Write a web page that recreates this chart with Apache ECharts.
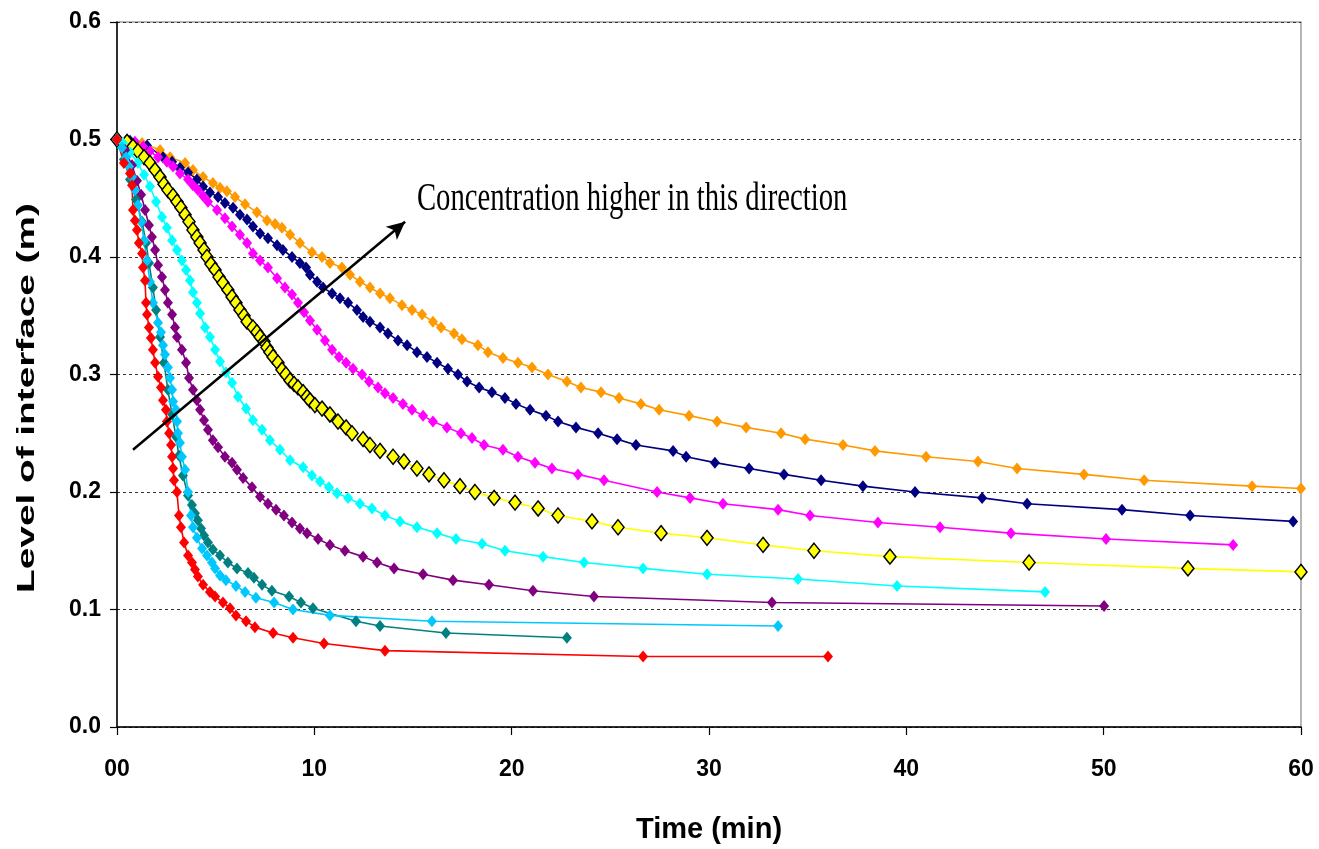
<!DOCTYPE html>
<html>
<head>
<meta charset="utf-8">
<script src="https://cdn.jsdelivr.net/npm/echarts@6/dist/echarts.min.js"></script>
<style>
html, body { margin: 0; padding: 0; background: #fff; }
#chart { width: 1319px; height: 849px; }
</style>
</head>
<body>
<div id="chart"></div>
<script>
// time (min), level (m)
const redData = [[0,0.5],[0.35,0.48],[0.66,0.471],[0.76,0.461],[0.81,0.44],[0.91,0.431],[1.01,0.423],[1.11,0.412],[1.27,0.403],[1.32,0.391],[1.42,0.38],[1.47,0.361],[1.52,0.351],[1.62,0.34],[1.72,0.331],[1.82,0.321],[1.93,0.31],[2.08,0.298],[2.23,0.289],[2.33,0.278],[2.48,0.27],[2.53,0.26],[2.64,0.25],[2.74,0.24],[2.79,0.23],[2.84,0.22],[2.89,0.21],[3.04,0.2],[3.14,0.18],[3.24,0.17],[3.4,0.157],[3.6,0.146],[3.8,0.14],[3.95,0.134],[4.1,0.128],[4.36,0.121],[4.71,0.115],[4.97,0.111],[5.37,0.106],[5.73,0.101],[6.03,0.095],[6.54,0.09],[6.99,0.085],[7.91,0.08],[8.92,0.076],[10.49,0.071],[13.58,0.065],[26.66,0.06],[36.03,0.06]];
const lightBlueData = [[0,0.5],[0.25,0.493],[0.46,0.485],[0.61,0.477],[0.76,0.468],[0.91,0.457],[1.06,0.444],[1.22,0.43],[1.37,0.414],[1.52,0.397],[1.67,0.379],[1.82,0.361],[2.08,0.344],[2.23,0.336],[2.33,0.325],[2.43,0.317],[2.58,0.306],[2.69,0.297],[2.79,0.287],[2.84,0.277],[2.99,0.27],[3.04,0.26],[3.09,0.25],[3.19,0.242],[3.29,0.23],[3.45,0.219],[3.6,0.2],[3.75,0.18],[3.85,0.17],[4.05,0.161],[4.31,0.152],[4.56,0.146],[4.81,0.14],[4.97,0.135],[5.22,0.129],[5.52,0.125],[6.03,0.12],[6.49,0.115],[7.04,0.11],[7.96,0.106],[8.92,0.1],[10.79,0.095],[15.96,0.09],[33.5,0.086]];
const tealData = [[0,0.5],[0.35,0.483],[0.66,0.466],[0.96,0.449],[1.27,0.43],[1.47,0.412],[1.62,0.395],[1.82,0.374],[1.98,0.355],[2.18,0.332],[2.38,0.31],[2.58,0.287],[2.79,0.266],[2.99,0.247],[3.14,0.231],[3.34,0.214],[3.6,0.197],[3.8,0.189],[3.95,0.182],[4.1,0.176],[4.26,0.169],[4.41,0.163],[4.61,0.157],[4.86,0.151],[5.22,0.146],[5.62,0.14],[6.08,0.135],[6.64,0.131],[6.94,0.127],[7.35,0.121],[7.85,0.116],[8.72,0.111],[9.32,0.106],[9.93,0.101],[12.11,0.09],[13.33,0.086],[16.67,0.08],[22.8,0.076]];
const purpleData = [[0,0.5],[0.41,0.491],[0.76,0.478],[1.01,0.465],[1.22,0.453],[1.42,0.44],[1.62,0.427],[1.77,0.417],[1.93,0.406],[2.08,0.393],[2.28,0.383],[2.43,0.372],[2.58,0.361],[2.79,0.351],[2.94,0.34],[3.04,0.332],[3.29,0.321],[3.5,0.31],[3.65,0.297],[3.85,0.287],[4.05,0.278],[4.21,0.27],[4.41,0.261],[4.61,0.253],[4.86,0.244],[5.12,0.238],[5.47,0.23],[5.83,0.225],[6.08,0.219],[6.39,0.212],[6.84,0.204],[7.25,0.196],[7.65,0.19],[8.06,0.185],[8.46,0.18],[8.87,0.174],[9.27,0.169],[9.63,0.165],[10.19,0.16],[10.79,0.155],[11.55,0.15],[12.47,0.145],[13.18,0.14],[14.04,0.135],[15.51,0.13],[17.03,0.125],[18.85,0.121],[21.08,0.116],[24.17,0.111],[33.19,0.106],[50.02,0.103]];
const cyanData = [[0,0.5],[0.3,0.497],[0.66,0.489],[1.06,0.48],[1.37,0.47],[1.67,0.46],[1.98,0.447],[2.28,0.434],[2.53,0.425],[2.79,0.414],[3.04,0.406],[3.29,0.397],[3.5,0.389],[3.7,0.38],[3.85,0.37],[4.05,0.361],[4.21,0.352],[4.46,0.34],[4.71,0.332],[4.97,0.321],[5.22,0.311],[5.52,0.302],[5.83,0.293],[6.13,0.281],[6.54,0.271],[6.89,0.261],[7.35,0.253],[7.75,0.244],[8.26,0.236],[8.77,0.227],[9.43,0.221],[9.88,0.214],[10.29,0.209],[10.74,0.204],[11.15,0.199],[11.71,0.195],[12.31,0.19],[12.92,0.186],[13.58,0.18],[14.34,0.175],[15.2,0.17],[16.22,0.165],[17.18,0.16],[18.5,0.156],[19.66,0.15],[21.59,0.145],[23.67,0.14],[26.66,0.135],[29.9,0.13],[34.51,0.126],[39.53,0.12],[47.03,0.115]];
const yellowData = [[0,0.5],[0.51,0.498],[0.81,0.494],[1.06,0.49],[1.37,0.485],[1.67,0.48],[1.93,0.474],[2.18,0.468],[2.38,0.462],[2.58,0.457],[2.84,0.452],[3.04,0.447],[3.24,0.442],[3.45,0.436],[3.65,0.43],[3.85,0.423],[4.05,0.417],[4.21,0.412],[4.41,0.406],[4.56,0.4],[4.76,0.394],[4.97,0.389],[5.17,0.383],[5.37,0.378],[5.62,0.372],[5.83,0.366],[6.03,0.361],[6.23,0.355],[6.44,0.35],[6.59,0.345],[6.89,0.34],[7.09,0.336],[7.25,0.332],[7.45,0.328],[7.6,0.323],[7.75,0.319],[7.91,0.315],[8.16,0.31],[8.36,0.304],[8.56,0.3],[8.77,0.295],[8.97,0.292],[9.17,0.289],[9.43,0.285],[9.63,0.281],[9.78,0.278],[10.03,0.274],[10.39,0.271],[10.79,0.266],[11.2,0.26],[11.61,0.255],[11.91,0.25],[12.47,0.245],[12.82,0.24],[13.33,0.235],[13.99,0.23],[14.54,0.226],[15.2,0.22],[15.81,0.215],[16.57,0.21],[17.38,0.205],[18.14,0.2],[19.11,0.195],[20.17,0.191],[21.34,0.186],[22.35,0.18],[24.07,0.175],[25.39,0.17],[27.57,0.165],[29.9,0.161],[32.74,0.155],[35.32,0.15],[39.17,0.145],[46.22,0.14],[54.27,0.135],[60,0.132]];
const magentaData = [[0,0.5],[0.46,0.499],[0.91,0.498],[1.32,0.494],[1.67,0.49],[2.08,0.485],[2.53,0.481],[2.84,0.477],[3.19,0.471],[3.6,0.466],[3.85,0.461],[4.1,0.457],[4.36,0.452],[4.61,0.447],[5.07,0.44],[5.47,0.433],[5.83,0.426],[6.23,0.419],[6.59,0.412],[6.89,0.403],[7.25,0.397],[7.65,0.391],[8.11,0.382],[8.51,0.374],[8.87,0.368],[9.17,0.361],[9.48,0.353],[9.78,0.346],[10.14,0.338],[10.54,0.329],[10.9,0.321],[11.25,0.315],[11.61,0.31],[11.96,0.305],[12.42,0.3],[12.77,0.294],[13.23,0.289],[13.58,0.284],[13.99,0.28],[14.49,0.275],[14.95,0.27],[15.51,0.265],[16.01,0.26],[16.72,0.255],[17.43,0.25],[17.99,0.246],[18.6,0.24],[19.56,0.236],[20.32,0.23],[21.18,0.225],[22.04,0.22],[23.36,0.215],[24.68,0.21],[27.37,0.2],[29.04,0.195],[30.71,0.19],[33.5,0.185],[35.12,0.18],[38.56,0.174],[41.71,0.17],[45.3,0.165],[50.12,0.16],[56.56,0.155]];
const navyData = [[0,0.5],[0.66,0.499],[1.52,0.495],[2.33,0.485],[2.79,0.481],[3.19,0.476],[3.6,0.472],[4.05,0.466],[4.36,0.46],[4.71,0.455],[5.12,0.451],[5.47,0.446],[5.88,0.442],[6.23,0.436],[6.59,0.432],[6.89,0.426],[7.25,0.42],[7.65,0.416],[8.11,0.41],[8.41,0.406],[8.87,0.4],[9.27,0.395],[9.58,0.391],[9.78,0.385],[10.14,0.379],[10.44,0.374],[10.9,0.369],[11.3,0.365],[11.71,0.361],[12.16,0.355],[12.47,0.349],[12.82,0.345],[13.33,0.34],[13.73,0.335],[14.24,0.329],[14.7,0.325],[15.2,0.319],[15.71,0.315],[16.22,0.31],[16.77,0.305],[17.28,0.3],[17.74,0.294],[18.35,0.289],[19,0.285],[19.66,0.28],[20.22,0.275],[20.93,0.27],[21.74,0.265],[22.35,0.26],[23.26,0.255],[24.38,0.25],[25.34,0.245],[26.3,0.24],[28.18,0.235],[28.84,0.23],[30.3,0.225],[32.03,0.22],[33.8,0.215],[35.68,0.21],[37.8,0.205],[40.44,0.2],[43.84,0.195],[46.12,0.19],[50.93,0.185],[54.38,0.18],[59.6,0.175]];
const orangeData = [[0,0.5],[1.27,0.497],[2.18,0.491],[2.69,0.485],[3.45,0.48],[3.85,0.474],[4.36,0.468],[4.86,0.463],[5.22,0.459],[5.57,0.456],[5.98,0.451],[6.49,0.445],[7.09,0.438],[7.6,0.431],[8.01,0.428],[8.36,0.425],[8.77,0.419],[9.27,0.412],[9.88,0.404],[10.39,0.4],[10.79,0.395],[11.4,0.391],[11.81,0.385],[12.31,0.379],[12.82,0.374],[13.33,0.369],[13.83,0.365],[14.44,0.359],[14.95,0.355],[15.46,0.351],[16.01,0.345],[16.42,0.34],[17.08,0.335],[17.48,0.33],[18.29,0.325],[18.8,0.319],[19.56,0.314],[20.32,0.31],[21.03,0.306],[21.84,0.3],[22.8,0.294],[23.51,0.289],[24.53,0.285],[25.44,0.28],[26.55,0.275],[27.47,0.27],[28.99,0.265],[30.41,0.26],[31.88,0.255],[33.65,0.25],[34.87,0.245],[36.79,0.24],[38.41,0.235],[41,0.23],[43.63,0.226],[45.61,0.22],[49,0.215],[52.05,0.21],[57.52,0.205],[60,0.203]];

const arrowStart = [0.81, 0.236];
const arrowEnd = [14.6, 0.43];
const noteText = 'Concentration higher in this direction';
const yTitle = 'Level of interface (m)';

const myChart = echarts.init(document.getElementById('chart'));

const mk = (data, color, opts) => Object.assign({
    type: 'line',
    data: data,
    symbol: 'diamond',
    symbolSize: [10, 12],
    showSymbol: true,
    lineStyle: { color: color, width: 1.6 },
    itemStyle: { color: color },
    z: 2,
}, opts || {});

let option = {
    animation: false,
    backgroundColor: '#fff',
    grid: {
        left: 117,
        right: 18,
        top: 22,
        bottom: 122,
        show: true,
        borderColor: '#a0a0a0',
        borderWidth: 1.5,
    },
    xAxis: {
        type: 'value',
        min: 0,
        max: 60,
        interval: 10,
        name: 'Time (min)',
        nameLocation: 'middle',
        nameGap: 88,
        nameTextStyle: { fontFamily: 'Liberation Sans, Arial', fontWeight: 'bold', fontSize: 29, color: '#000' },
        axisLine: { onZero: false, lineStyle: { color: '#000', width: 1.5 } },
        axisTick: { show: true, length: 8, lineStyle: { color: '#000', width: 1.2 } },
        axisLabel: {
            margin: 31,
            color: '#000',
            fontFamily: 'Liberation Sans, Arial',
            fontWeight: 'bold',
            fontSize: 23,
            formatter: (v) => (v === 0 ? '00' : String(v)),
        },
        splitLine: { show: false },
    },
    yAxis: {
        type: 'value',
        min: 0,
        max: 0.6,
        interval: 0.1,
        axisLine: { show: true, lineStyle: { color: '#000', width: 1.5 } },
        axisTick: { show: true, length: 7, lineStyle: { color: '#000', width: 1.2 } },
        axisLabel: {
            margin: 16,
            color: '#000',
            fontFamily: 'Liberation Sans, Arial',
            fontWeight: 'bold',
            fontSize: 23,
            formatter: (v) => v.toFixed(1),
        },
        splitLine: { show: true, lineStyle: { color: '#333', width: 1, type: [3, 3] } },
    },
    series: [
        mk(orangeData, '#FF9900'),
        mk(navyData, '#000080'),
        mk(magentaData, '#FF00FF'),
        mk(yellowData, '#FFFF00', {
            symbolSize: [12, 15],
            itemStyle: { color: '#FFFF00', borderColor: '#000', borderWidth: 1.5 },
        }),
        mk(cyanData, '#00FFFF'),
        mk(purpleData, '#800080'),
        mk(tealData, '#008080'),
        mk(lightBlueData, '#00C8FF'),
        mk(redData, '#FF0000', {
            markLine: {
                silent: true,
                symbol: ['none', 'arrow'],
                symbolSize: [13, 18],
                label: { show: false },
                lineStyle: { color: '#000', width: 2.5, type: 'solid' },
                data: [[{ coord: arrowStart }, { coord: arrowEnd }]],
            },
        }),
    ],
};

myChart.setOption(option);

// annotation text, placed through the axes
const p = myChart.convertToPixel({ gridIndex: 0 }, [15.2, 0.449]);
myChart.setOption({
    graphic: [
        {
            type: 'text',
            x: p[0],
            y: p[1],
            scaleX: 0.7,
            style: {
                text: noteText,
                font: '41px "Liberation Serif", "Times New Roman", serif',
                fill: '#000',
                textVerticalAlign: 'middle',
            },
        },
        {
            // y axis title, spread out like the original
            type: 'text',
            x: 27,
            y: 398,
            rotation: Math.PI / 2,
            scaleX: 1.55,
            scaleY: 0.95,
            style: {
                text: yTitle,
                font: 'bold 25px "Liberation Sans", Arial, sans-serif',
                fill: '#000',
                textAlign: 'center',
                textVerticalAlign: 'middle',
            },
        },
    ],
});
</script>
</body>
</html>
